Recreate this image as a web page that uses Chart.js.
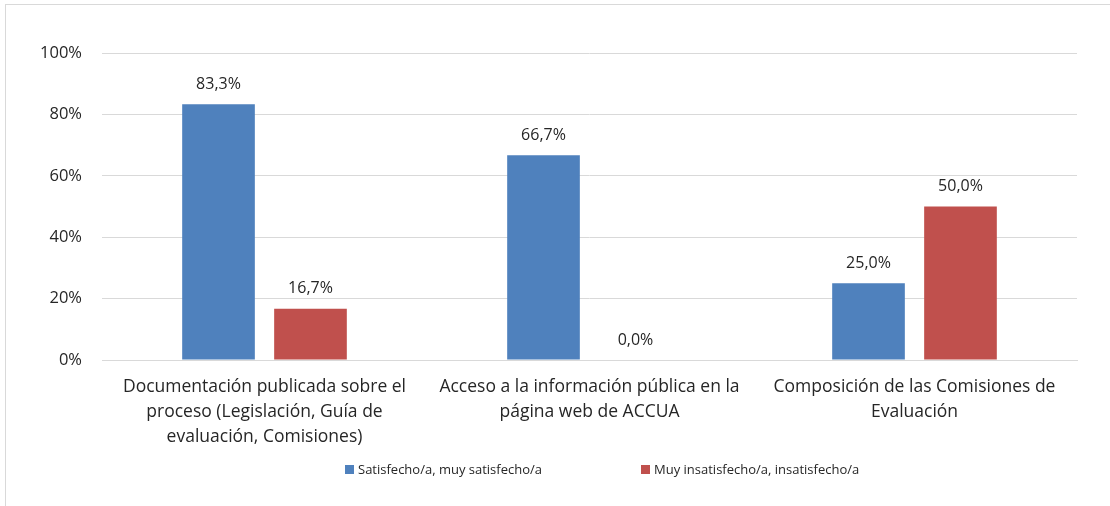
<!DOCTYPE html>
<html>
<head>
<meta charset="utf-8">
<script src="https://cdn.jsdelivr.net/npm/chart.js@4/dist/chart.umd.min.js"></script>
<style>
  html, body { margin: 0; padding: 0; background: #fff; overflow: hidden; }
  #wrap { position: relative; width: 1110px; height: 506px; }
  #frame { position: absolute; left: 5px; top: 4px; width: 1200px; height: 600px; border: 1px solid #d9d9d9; }
  #chart { position: absolute; left: 0; top: 0; }
</style>
</head>
<body>
<div id="wrap">
  <div id="frame"></div>
  <canvas id="chart" width="1110" height="506"></canvas>
</div>
<script>
var categories = [
    ["Documentación publicada sobre el", "proceso (Legislación, Guía de", "evaluación, Comisiones)"],
    ["Acceso a la información pública en la", "página web de ACCUA"],
    ["Composición de las Comisiones de", "Evaluación"]
];
var seriesNames = ["Satisfecho/a, muy satisfecho/a", "Muy insatisfecho/a, insatisfecho/a"];
var satisfechos = [83.3, 66.7, 25.0];
var insatisfechos = [16.7, 0.0, 50.0];
var seriesColors = ["#4F81BD", "#C0504D"];

var FONT = "'Open Sans', sans-serif";
var TEXT = "#262626";

function pct(v) {
    return v.toFixed(1).replace(".", ",") + "%";
}

// etiquetas de valor encima de cada barra
var barLabels = {
    id: 'barLabels',
    afterDatasetsDraw: function(chart) {
        var ctx = chart.ctx;
        ctx.save();
        ctx.font = "16px " + FONT;
        ctx.fillStyle = TEXT;
        ctx.textAlign = "center";
        ctx.textBaseline = "middle";
        chart.data.datasets.forEach(function(ds, i) {
            chart.getDatasetMeta(i).data.forEach(function(bar, j) {
                ctx.fillText(pct(ds.data[j]), bar.x, bar.y - 20);
            });
        });
        ctx.restore();
    }
};

// leyenda inferior
var bottomLegend = {
    id: 'bottomLegend',
    afterDraw: function(chart) {
        var ctx = chart.ctx;
        var xs = [345, 641];
        var y = 470;
        ctx.save();
        ctx.font = "13px " + FONT;
        ctx.textBaseline = "middle";
        ctx.textAlign = "left";
        chart.data.datasets.forEach(function(ds, i) {
            ctx.fillStyle = ds.backgroundColor;
            ctx.fillRect(xs[i], y - 5, 9, 9);
            ctx.fillStyle = TEXT;
            ctx.fillText(ds.label, xs[i] + 13, y);
        });
        ctx.restore();
    }
};

var ctx = document.getElementById('chart').getContext('2d');
new Chart(ctx, {
    type: 'bar',
    data: {
        labels: categories,
        datasets: [{
            label: seriesNames[0],
            data: satisfechos,
            backgroundColor: seriesColors[0],
            categoryPercentage: 0.566,
            barPercentage: 0.79
        }, {
            label: seriesNames[1],
            data: insatisfechos,
            backgroundColor: seriesColors[1],
            categoryPercentage: 0.566,
            barPercentage: 0.79
        }]
    },
    options: {
        responsive: false,
        animation: false,
        layout: {
            padding: { top: 53, right: 33, bottom: 50, left: 0 }
        },
        plugins: {
            legend: { display: false },
            tooltip: { enabled: false }
        },
        scales: {
            y: {
                min: 0,
                max: 100,
                ticks: {
                    stepSize: 20,
                    padding: 20,
                    color: TEXT,
                    font: { family: FONT, size: 16.5 },
                    callback: function(v) { return v + "%"; }
                },
                grid: { color: "#d9d9d9", drawTicks: false },
                border: { display: false },
                afterFit: function(scale) { scale.width = 102; }
            },
            x: {
                ticks: {
                    padding: 15,
                    color: TEXT,
                    maxRotation: 0,
                    font: { family: FONT, size: 17.5, lineHeight: "25px" }
                },
                grid: { display: false, drawTicks: false },
                border: { color: "#d9d9d9" },
                afterFit: function(scale) { scale.height = 96; }
            }
        }
    },
    plugins: [barLabels, bottomLegend]
});
</script>
</body>
</html>
